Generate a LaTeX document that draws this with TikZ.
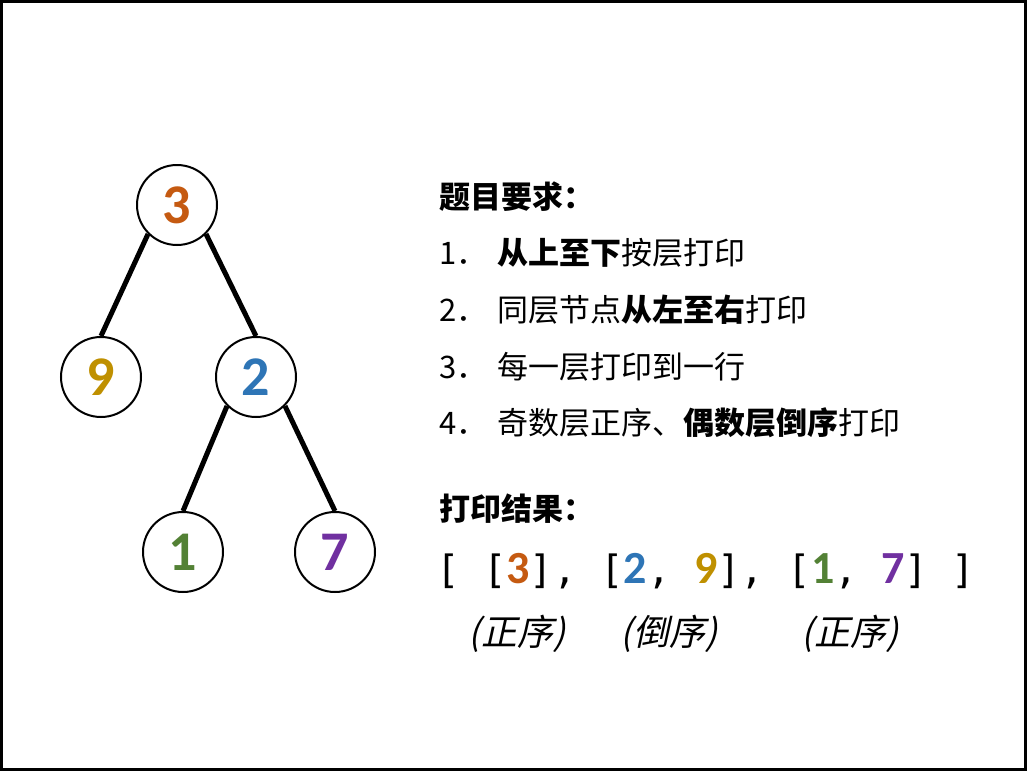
\documentclass[tikz,border=0pt]{standalone}
\usepackage{fontspec}
\usepackage{xcolor}
\newfontfamily\cjk{Noto Sans CJK SC}
\newfontfamily\cjkit{Noto Sans CJK SC}[FakeSlant=0.22]
\newfontfamily\digfont{Carlito}
\newfontfamily\mono{DejaVu Sans Mono}
\definecolor{cthree}{HTML}{C55A11}
\definecolor{cnine}{HTML}{BF9000}
\definecolor{ctwo}{HTML}{2E75B6}
\definecolor{cone}{HTML}{538135}
\definecolor{cseven}{HTML}{7030A0}
\newcommand\Dg[2]{{\color{#1}\digfont\bfseries\fontsize{46}{44}\selectfont #2}}
\tikzset{
  treenode/.style={circle,draw=black,line width=2pt,minimum size=80pt,inner sep=0pt,
    font=\digfont\bfseries\fontsize{56}{60}\selectfont},
  edge/.style={line width=5pt},
  txt/.style={anchor=base west,inner sep=0pt,font=\cjk\fontsize{31}{36}\selectfont},
  itx/.style={anchor=base,inner sep=0pt,font=\cjkit\fontsize{36}{40}\selectfont},
}
\begin{document}
\begin{tikzpicture}[x=1pt,y=-1pt]
\useasboundingbox (0,0) rectangle (1027,771);
\fill[white] (0,0) rectangle (1027,771);
\draw[line width=3pt] (1.5,1.5) rectangle (1025.5,769.5);
% tree
\node[treenode,text=cthree] (n3) at (177,205) {3};
\node[treenode,text=cnine] (n9) at (101,377) {9};
\node[treenode,text=ctwo] (n2) at (256,377) {2};
\node[treenode,text=cone] (n1) at (183,552) {1};
\node[treenode,text=cseven] (n7) at (335,552) {7};
\draw[edge] (n3.south west) -- (n9.north);
\draw[edge] (n3.south east) -- (n2.north);
\draw[edge] (n2.south west) -- (n1.north);
\draw[edge] (n2.south east) -- (n7.north);
% text
\node[txt] (t0) at (439,208) {\bfseries 题目要求：};
\node[txt] (t1) at (439,264) {\makebox[58pt][l]{1．}{\bfseries 从上至下}按层打印};
\node[txt] (t2) at (439,321) {\makebox[58pt][l]{2．}同层节点{\bfseries 从左至右}打印};
\node[txt] (t3) at (439,378) {\makebox[58pt][l]{3．}每一层打印到一行};
\node[txt] (t4) at (439,434) {\makebox[58pt][l]{4．}奇数层正序、{\bfseries 偶数层倒序}打印};
\node[txt] (t5) at (439,520) {\bfseries 打印结果：};
\node[anchor=base west,inner sep=0pt,font=\mono\fontsize{39}{44}\selectfont] (res) at (436,583)
  {[ [\Dg{cthree}{3}], [\Dg{ctwo}{2}, \Dg{cnine}{9}], [\Dg{cone}{1}, \Dg{cseven}{7}] ]};
\node[itx] (i1) at (517,645) {(正序)};
\node[itx] (i2) at (669,645) {(倒序)};
\node[itx] (i3) at (850,645) {(正序)};
\end{tikzpicture}
\end{document}
